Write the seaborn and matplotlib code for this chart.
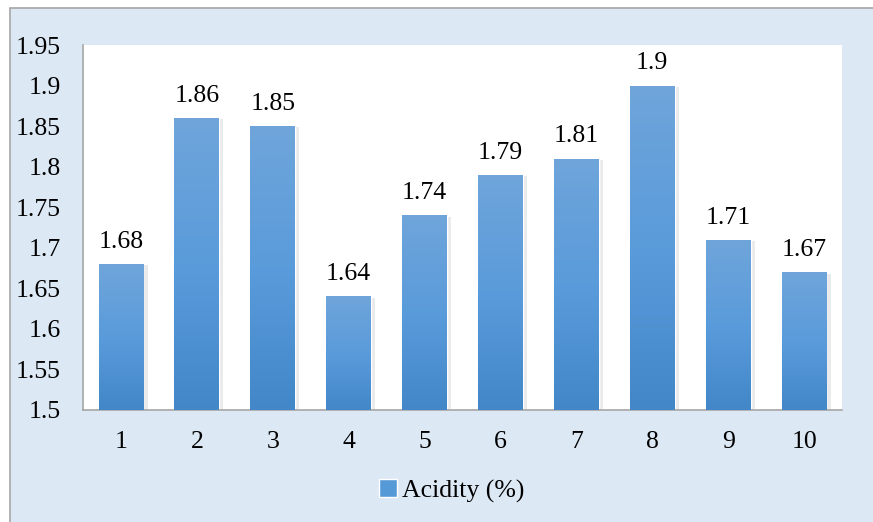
import numpy as np
import matplotlib
matplotlib.use("Agg")
import matplotlib.pyplot as plt
import matplotlib.patheffects as pe
from matplotlib.patches import Rectangle, Patch
from matplotlib.colors import LinearSegmentedColormap
import seaborn as sns

# données
samples = ["1", "2", "3", "4", "5", "6", "7", "8", "9", "10"]
acidity = [1.68, 1.86, 1.85, 1.64, 1.74, 1.79, 1.81, 1.90, 1.71, 1.67]
series_name = "Acidity (%)"
y_ticks = [1.5, 1.55, 1.6, 1.65, 1.7, 1.75, 1.8, 1.85, 1.9, 1.95]

sns.set_style("white")
plt.rcParams["font.family"] = ["Liberation Serif", "DejaVu Serif"]
plt.rcParams["text.color"] = "black"

W, H = 873, 522
fig = plt.figure(figsize=(W / 100, H / 100), dpi=100, facecolor="white")

# cadre bleu clair autour du graphique
fig.patches.append(Rectangle((10 / W, -0.01), 1.0, (H - 8) / H + 0.01,
                             transform=fig.transFigure, facecolor="#dce8f4",
                             edgecolor="#a6a6a6", linewidth=1.2, zorder=-5))

ax = fig.add_axes([83 / W, (H - 410) / H, (842 - 83) / W, (410 - 45) / H])
ax.set_facecolor("white")

sns.barplot(x=samples, y=acidity, ax=ax, width=0.59, color="#5599d6",
            saturation=1, zorder=2)

ax.set_ylim(1.5, 1.95)
ax.set_yticks(y_ticks)
ax.set_yticklabels([f"{t:g}" for t in y_ticks])
ax.set_xlabel("")
ax.set_ylabel("")
ax.tick_params(axis="both", length=0, labelsize=18.5, colors="black")
ax.tick_params(axis="y", pad=16)
ax.tick_params(axis="x", pad=15)

for s in ["top", "right"]:
    ax.spines[s].set_visible(False)
for s in ["left", "bottom"]:
    ax.spines[s].set_color("#a6a6a6")
    ax.spines[s].set_linewidth(1.2)

# dégradé vertical dans chaque barre + ombre légère
cmap = LinearSegmentedColormap.from_list("bar", ["#4387c8", "#5a9bdb", "#6fa5da"])
grad = np.linspace(0, 1, 256).reshape(-1, 1)
for bar in ax.patches:
    x0, y0 = bar.get_x(), bar.get_y()
    w, h = bar.get_width(), bar.get_height()
    bar.set_path_effects([pe.SimplePatchShadow(offset=(3, -1), shadow_rgbFace="#999999", alpha=0.2),
                          pe.Normal()])
    im = ax.imshow(grad, cmap=cmap, origin="lower", aspect="auto",
                   extent=[x0, x0 + w, 1.5, y0 + h], zorder=3)
    im.set_clip_path(bar)

ax.set_xlim(-0.5, len(samples) - 0.5)
ax.set_ylim(1.5, 1.95)

ax.bar_label(ax.containers[0], labels=[f"{v:g}" for v in acidity],
             padding=8, fontsize=18.5, color="black")

fig.legend(handles=[Patch(facecolor="#5599d6", label=series_name)],
           loc="center", bbox_to_anchor=(452 / W, 1 - 491 / H),
           frameon=False, fontsize=18.5, handlelength=0.7, handleheight=0.7,
           handletextpad=0.2)

plt.savefig("out.png", dpi=100)
